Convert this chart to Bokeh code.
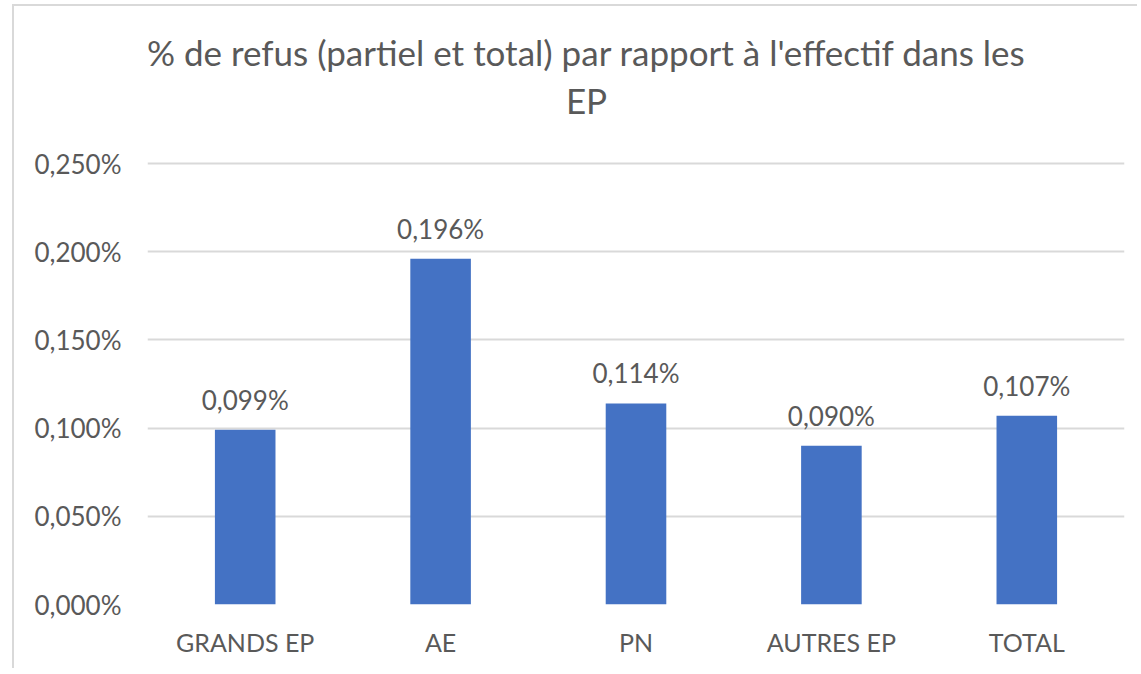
from bokeh.plotting import figure
from bokeh.models import ColumnDataSource, Label, Range1d, FixedTicker, CustomJSTickFormatter
from bokeh.core.properties import value
from bokeh.embed import file_html
from bokeh.resources import INLINE

categories = ["GRANDS EP", "AE", "PN", "AUTRES EP", "TOTAL"]
values_pct = [0.099, 0.196, 0.114, 0.090, 0.107]
value_labels = ["0,099%", "0,196%", "0,114%", "0,090%", "0,107%"]
y_ticks = [0.0, 0.05, 0.10, 0.15, 0.20, 0.25]
title_lines = ["% de refus (partiel et total) par rapport à l'effectif dans les", "EP"]

FONT = "Lato"
GREY = "#595959"
BAR = "#4472C4"
GRID = "#D9D9D9"

W, H = 1125, 664
LEFT, RIGHT, BOTTOM = 133, 15, 66
FRAME_H = H - BOTTOM           # frame spans to the top, title drawn inside it
TOP_GRID_PX = 157              # pixel row of the highest gridline
y_end = y_ticks[-1] * FRAME_H / (FRAME_H - TOP_GRID_PX)

src = ColumnDataSource(dict(cat=categories, v=values_pct, lab=value_labels))

p = figure(x_range=categories, y_range=Range1d(0, y_end), width=W, height=H,
           output_backend="svg", toolbar_location=None,
           min_border_left=LEFT, min_border_right=RIGHT, min_border_top=0, min_border_bottom=BOTTOM)
p.x_range.range_padding = 0
p.outline_line_color = None
p.background_fill_color = "white"
p.border_fill_color = "white"

p.vbar(x="cat", top="v", width=0.31, source=src, fill_color=BAR, line_color=None)
p.text(x="cat", y="v", text="lab", source=src, text_align="center", text_baseline="middle",
       y_offset=-30, text_font=value(FONT), text_font_size="26px", text_color=GREY)

p.xgrid.grid_line_color = None
p.ygrid.grid_line_color = GRID
p.ygrid.grid_line_width = 2

p.yaxis.ticker = FixedTicker(ticks=y_ticks)
p.yaxis.formatter = CustomJSTickFormatter(code="return tick.toFixed(3).replace('.', ',') + '%';")
for ax in (p.xaxis, p.yaxis):
    ax.axis_line_color = None
    ax.major_tick_line_color = None
    ax.minor_tick_line_color = None
    ax.major_label_text_font = FONT
    ax.major_label_text_color = GREY
p.yaxis.major_label_text_font_size = "26px"
p.xaxis.major_label_text_font_size = "25px"
p.yaxis.major_label_standoff = 20
p.xaxis.major_label_standoff = 16

cx = 572 - LEFT
for txt, yy in zip(title_lines, [FRAME_H - 45, FRAME_H - 93]):
    p.add_layout(Label(x=cx, y=yy, x_units="screen", y_units="screen", text=txt,
                       text_align="center", text_baseline="middle", text_font=FONT,
                       text_font_size="35px", text_color=GREY))

p.styles = {"border-left": "2px solid #D9D9D9", "border-top": "2px solid #D9D9D9",
            "margin-left": "12px", "margin-top": "4px"}

open("out.html", "w").write(file_html(p, INLINE))
